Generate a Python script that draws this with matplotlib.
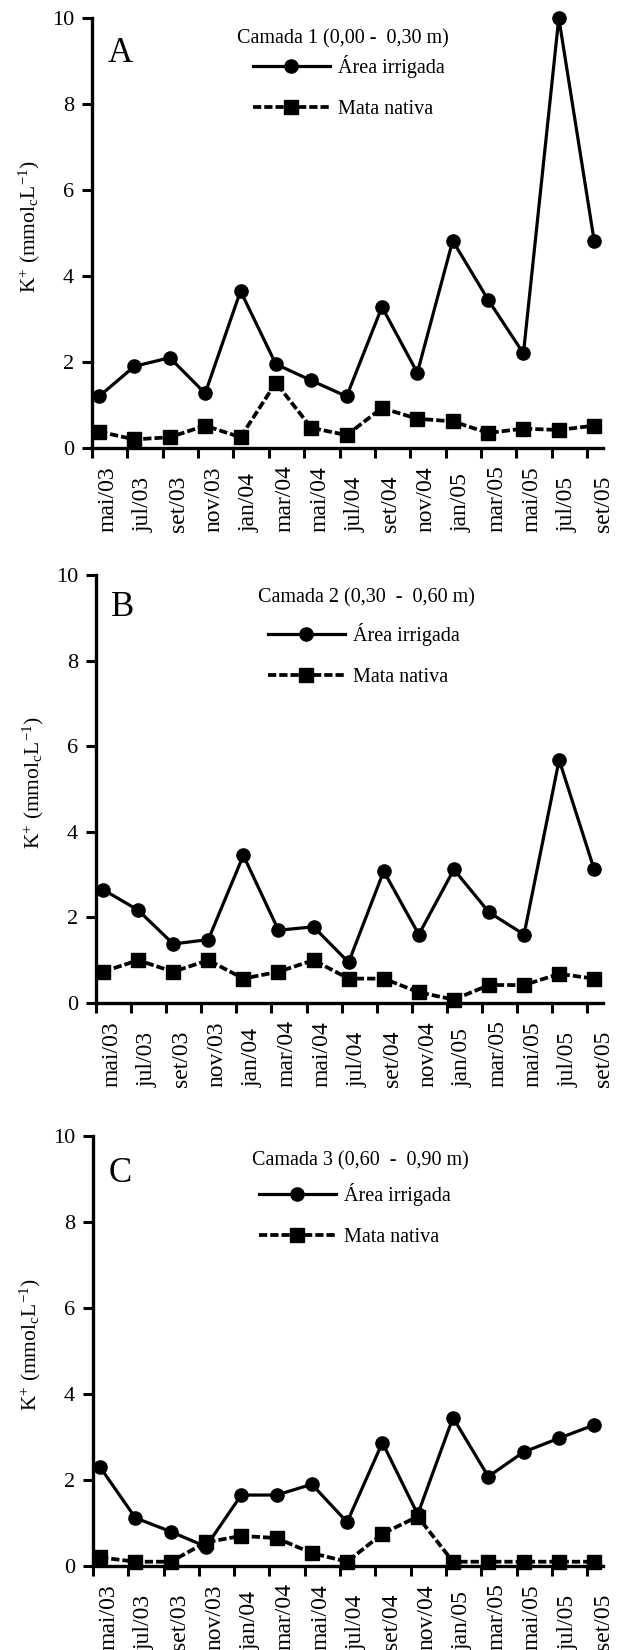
import matplotlib
matplotlib.use("Agg")
import matplotlib.pyplot as plt
import numpy as np

meses = ["mai/03", "jul/03", "set/03", "nov/03", "jan/04", "mar/04", "mai/04",
         "jul/04", "set/04", "nov/04", "jan/05", "mar/05", "mai/05", "jul/05", "set/05"]

irrigada_1 = [1.2, 1.9, 2.1, 1.27, 3.65, 1.95, 1.57, 1.2, 3.28, 1.75, 4.82, 3.45, 2.2, 10.0, 4.82]
mata_1 = [0.38, 0.2, 0.25, 0.52, 0.25, 1.52, 0.47, 0.3, 0.93, 0.68, 0.62, 0.35, 0.45, 0.42, 0.52]

irrigada_2 = [2.65, 2.17, 1.38, 1.48, 3.45, 1.7, 1.78, 0.95, 3.08, 1.6, 3.12, 2.12, 1.6, 5.68, 3.12]
mata_2 = [0.73, 1.0, 0.73, 1.0, 0.57, 0.73, 1.0, 0.57, 0.57, 0.25, 0.08, 0.42, 0.42, 0.68, 0.57]

irrigada_3 = [2.3, 1.12, 0.8, 0.45, 1.65, 1.65, 1.9, 1.02, 2.87, 1.2, 3.45, 2.08, 2.65, 2.97, 3.28]
mata_3 = [0.2, 0.1, 0.1, 0.55, 0.7, 0.65, 0.3, 0.1, 0.75, 1.15, 0.1, 0.1, 0.1, 0.1, 0.1]

camadas = ["Camada 1 (0,00 -  0,30 m)", "Camada 2 (0,30  -  0,60 m)", "Camada 3 (0,60  -  0,90 m)"]
letras = ["A", "B", "C"]

plt.rcParams['font.family'] = ['Liberation Serif', 'DejaVu Serif']
plt.rcParams['mathtext.fontset'] = 'custom'
plt.rcParams['mathtext.rm'] = 'Liberation Serif'
plt.rcParams['mathtext.it'] = 'Liberation Serif:italic'

fig = plt.figure(figsize=(6.17, 16.5), dpi=100)

# posicoes dos eixos em pixels (esquerda, topo, base) na figura 617x1650
caixas = [(92, 18, 448), (96, 575, 1003), (93, 1136, 1566)]
# legenda: x do simbolo, x do centro do titulo (px), e deslocamentos verticais
leg_px = [253, 268, 259]
tit_px = [343, 366, 360]
tit_dy = [21, 23, 25]
linha_dy = [48, 59, 58]
letra_dy = [36, 33, 38]
dados = [(irrigada_1, mata_1), (irrigada_2, mata_2), (irrigada_3, mata_3)]

x = np.arange(len(meses))
W, H = 617, 1650
DIR = 603

for i, (esq, topo, base) in enumerate(caixas):
    larg, alt = DIR - esq, base - topo
    ax = fig.add_axes([esq / W, 1 - base / H, larg / W, alt / H])
    irr, mata = dados[i]

    l1, = ax.plot(x + 0.2, irr, color='black', lw=2.3, marker='o', ms=9.5,
                  clip_on=False, zorder=3)
    l2, = ax.plot(x + 0.2, mata, color='black', lw=2.7, ls=(0, (2.2, 0.8)),
                  marker='s', ms=9.5, clip_on=False, zorder=4)

    ax.set_xlim(0, 14.43)
    ax.set_ylim(0, 10)
    ax.set_yticks(range(0, 11, 2))
    ax.set_xticks(x)
    ax.set_xticklabels([])
    ax.set_xticks(x + 0.45, minor=True)
    # rotulos alinhados pela base, ~84 px abaixo do eixo
    ax.set_xticklabels(meses, minor=True, rotation=90, fontsize=17, va='bottom', ha='center')
    ax.tick_params(axis='x', which='major', direction='out', length=7, width=2.2)
    ax.tick_params(axis='x', which='minor', length=0, pad=84 * 0.72)
    ax.tick_params(axis='y', direction='out', length=7, width=2.2, labelsize=16, pad=6)

    for lado in ['top', 'right']:
        ax.spines[lado].set_visible(False)
    for lado in ['left', 'bottom']:
        ax.spines[lado].set_linewidth(2.4)

    ax.set_ylabel(r"K$^{+}$ (mmol$_{\mathrm{c}}$L$^{-1}$)", fontsize=15.5)
    ax.yaxis.set_label_coords(-0.098, 0.515)

    ax.text(0.03, 1 - letra_dy[i] / alt, letras[i], transform=ax.transAxes, fontsize=25,
            va='center', ha='left')

    ax.text((tit_px[i] - esq) / larg, 1 - tit_dy[i] / alt, camadas[i], transform=ax.transAxes,
            fontsize=14.5, va='center', ha='center')
    ax.legend([l1, l2], ["Área irrigada", "Mata nativa"],
              loc='upper left', bbox_to_anchor=((leg_px[i] - esq) / larg, 1 - (linha_dy[i] - 11) / alt),
              frameon=False, fontsize=14.5, handlelength=3.8, handletextpad=0.4,
              labelspacing=1.1, borderpad=0, borderaxespad=0, numpoints=1)

fig.savefig("out.png", dpi=100)
